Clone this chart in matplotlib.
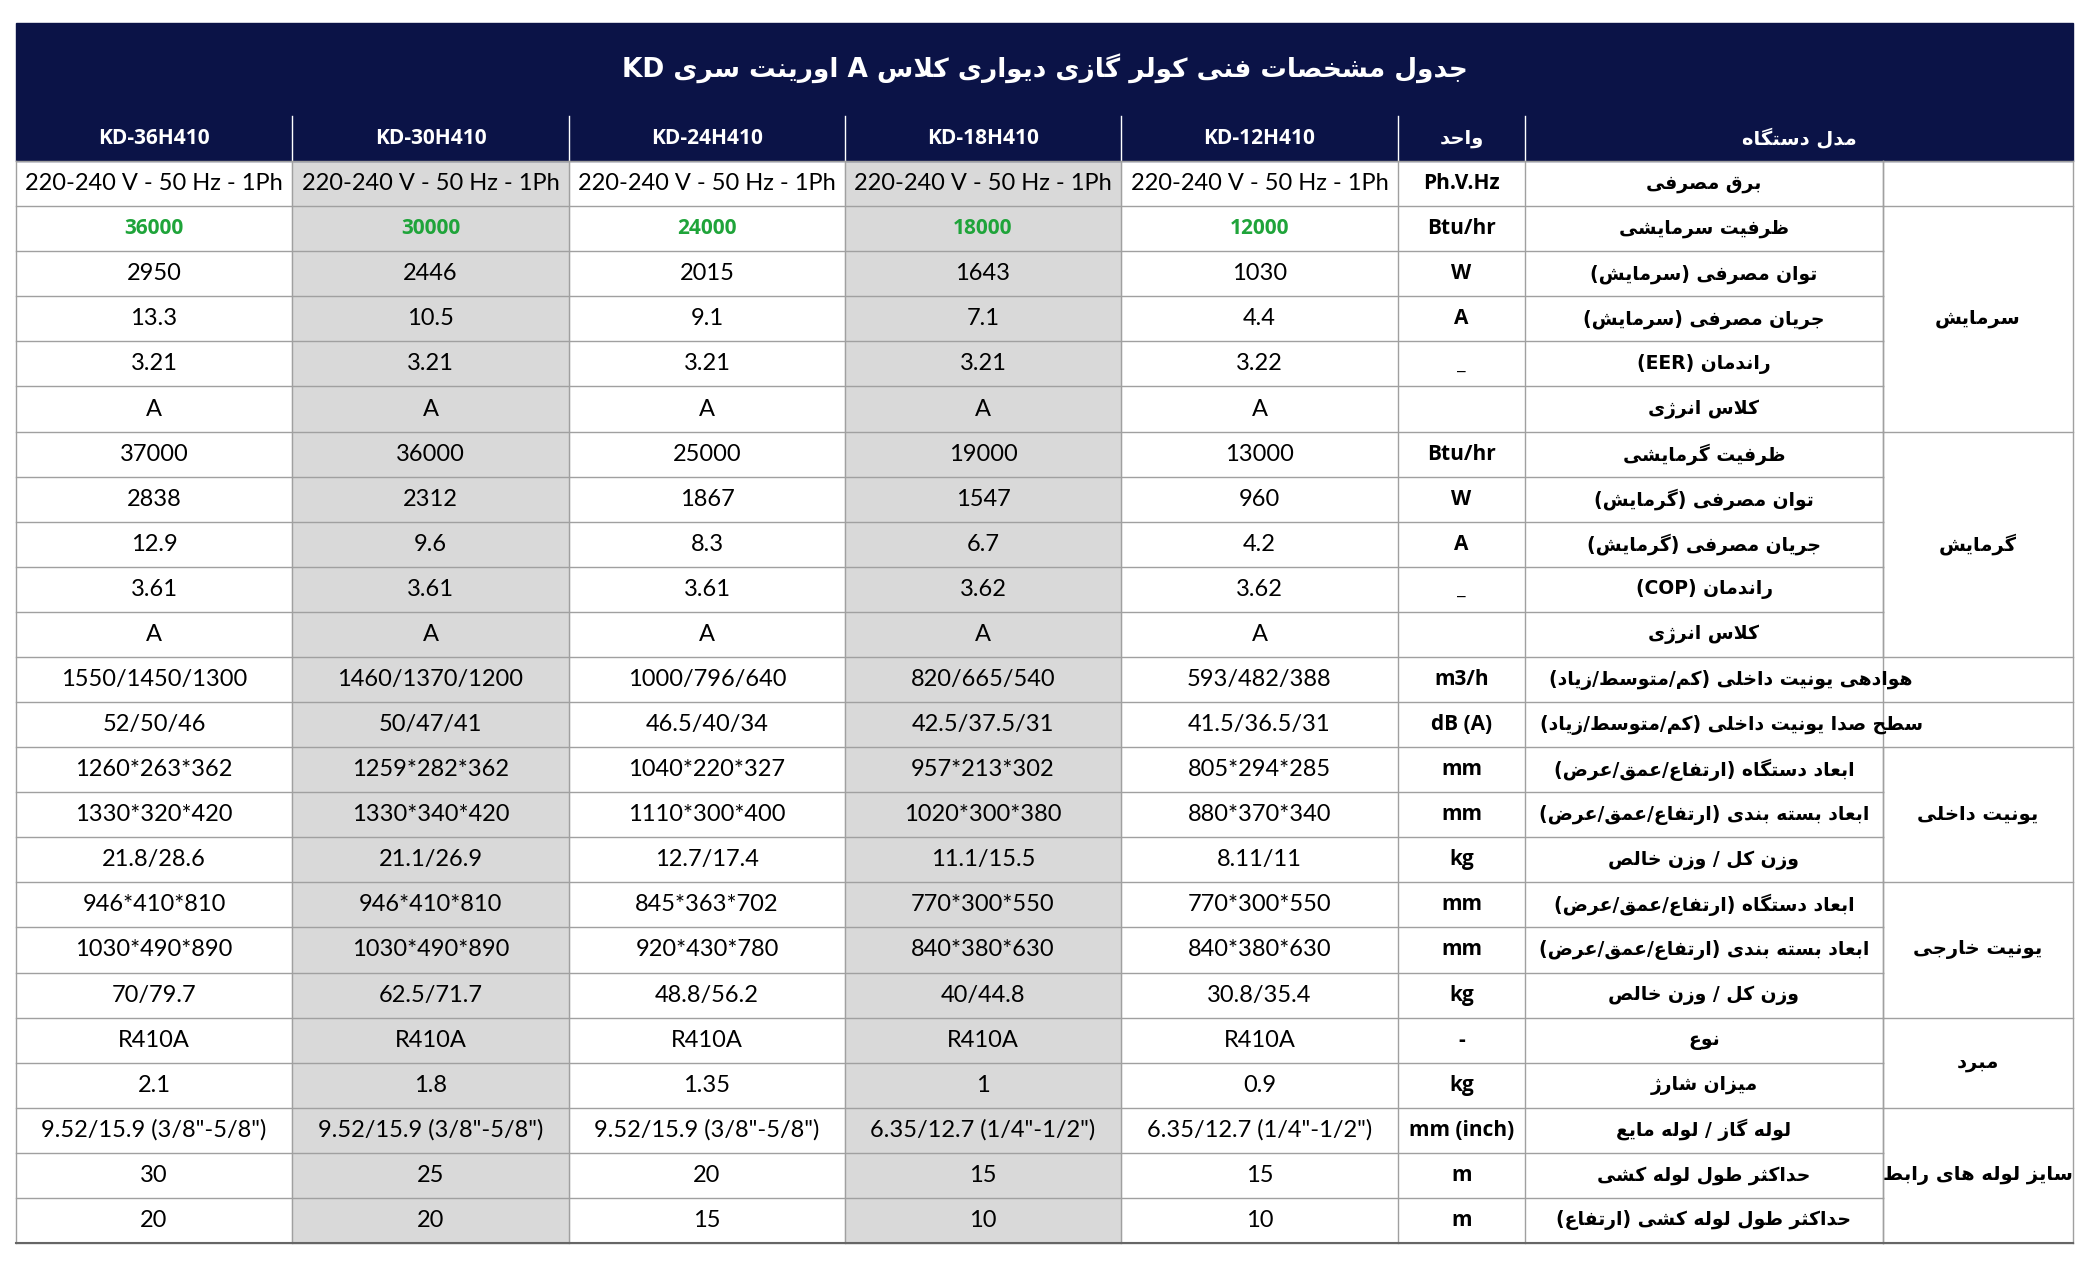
import matplotlib
matplotlib.use("Agg")
import matplotlib.pyplot as plt
from matplotlib.patches import Rectangle

# ---------------- data ----------------
title = "جدول مشخصات فنی کولر گازی دیواری کلاس A اورینت سری KD"
models = ["KD-12H410", "KD-18H410", "KD-24H410", "KD-30H410", "KD-36H410"]  # right -> left
row_labels = ["برق مصرفی", "ظرفیت سرمایشی", "توان مصرفی (سرمایش)", "جریان مصرفی (سرمایش)",
              "راندمان (EER)", "کلاس انرژی", "ظرفیت گرمایشی", "توان مصرفی (گرمایش)",
              "جریان مصرفی (گرمایش)", "راندمان (COP)", "کلاس انرژی",
              "هوادهی یونیت داخلی (کم/متوسط/زیاد)", "سطح صدا یونیت داخلی (کم/متوسط/زیاد)",
              "ابعاد دستگاه (ارتفاع/عمق/عرض)", "ابعاد بسته بندی (ارتفاع/عمق/عرض)", "وزن کل / وزن خالص",
              "ابعاد دستگاه (ارتفاع/عمق/عرض)", "ابعاد بسته بندی (ارتفاع/عمق/عرض)", "وزن کل / وزن خالص",
              "نوع", "میزان شارژ", "لوله گاز / لوله مایع", "حداکثر طول لوله کشی",
              "حداکثر طول لوله کشی (ارتفاع)"]
units = ["Ph.V.Hz", "Btu/hr", "W", "A", "_", "", "Btu/hr", "W", "A", "_", "", "m3/h", "dB (A)",
         "mm", "mm", "kg", "mm", "mm", "kg", "-", "kg", "mm (inch)", "m", "m"]
values = [
    ["220-240 V - 50 Hz - 1Ph"] * 5,
    ["12000", "18000", "24000", "30000", "36000"],
    ["1030", "1643", "2015", "2446", "2950"],
    ["4.4", "7.1", "9.1", "10.5", "13.3"],
    ["3.22", "3.21", "3.21", "3.21", "3.21"],
    ["A"] * 5,
    ["13000", "19000", "25000", "36000", "37000"],
    ["960", "1547", "1867", "2312", "2838"],
    ["4.2", "6.7", "8.3", "9.6", "12.9"],
    ["3.62", "3.62", "3.61", "3.61", "3.61"],
    ["A"] * 5,
    ["593/482/388", "820/665/540", "1000/796/640", "1460/1370/1200", "1550/1450/1300"],
    ["41.5/36.5/31", "42.5/37.5/31", "46.5/40/34", "50/47/41", "52/50/46"],
    ["805*294*285", "957*213*302", "1040*220*327", "1259*282*362", "1260*263*362"],
    ["880*370*340", "1020*300*380", "1110*300*400", "1330*340*420", "1330*320*420"],
    ["8.11/11", "11.1/15.5", "12.7/17.4", "21.1/26.9", "21.8/28.6"],
    ["770*300*550", "770*300*550", "845*363*702", "946*410*810", "946*410*810"],
    ["840*380*630", "840*380*630", "920*430*780", "1030*490*890", "1030*490*890"],
    ["30.8/35.4", "40/44.8", "48.8/56.2", "62.5/71.7", "70/79.7"],
    ["R410A"] * 5,
    ["0.9", "1", "1.35", "1.8", "2.1"],
    ['6.35/12.7 (1/4"-1/2")', '6.35/12.7 (1/4"-1/2")', '9.52/15.9 (3/8"-5/8")',
     '9.52/15.9 (3/8"-5/8")', '9.52/15.9 (3/8"-5/8")'],
    ["15", "15", "20", "25", "30"],
    ["10", "10", "15", "20", "20"],
]
groups = [("سرمایش", 1, 5), ("گرمایش", 6, 10), ("یونیت داخلی", 13, 15),
          ("یونیت خارجی", 16, 18), ("مبرد", 19, 20), ("سایز لوله های رابط", 21, 23)]
span_rows = [11, 12]

# ---------------- simple Persian shaping ----------------
DUAL = {'ب': 0xFE8F, 'ت': 0xFE95, 'ث': 0xFE99, 'ج': 0xFE9D, 'ح': 0xFEA1, 'خ': 0xFEA5,
        'س': 0xFEB1, 'ش': 0xFEB5, 'ص': 0xFEB9, 'ض': 0xFEBD, 'ط': 0xFEC1, 'ظ': 0xFEC5,
        'ع': 0xFEC9, 'غ': 0xFECD, 'ف': 0xFED1, 'ق': 0xFED5, 'ل': 0xFEDD, 'م': 0xFEE1,
        'ن': 0xFEE5, 'ه': 0xFEE9, 'ک': 0xFB8E, 'گ': 0xFB92, 'ی': 0xFBFC, 'پ': 0xFB56,
        'چ': 0xFB7A, 'ئ': 0xFE89}
RIGHT = {'ا': 0xFE8D, 'د': 0xFEA9, 'ذ': 0xFEAB, 'ر': 0xFEAD, 'ز': 0xFEAF, 'و': 0xFEED,
         'ژ': 0xFB8A, 'آ': 0xFE81, '\uE000': 0xFEFB}


def shape(s):
    s = s.replace('لا', '\uE000')
    out = []
    for i, c in enumerate(s):
        if c not in DUAL and c not in RIGHT:
            out.append(c)
            continue
        p = s[i - 1] if i > 0 else ''
        n = s[i + 1] if i + 1 < len(s) else ''
        cp = p in DUAL
        cn = c in DUAL and (n in DUAL or n in RIGHT)
        if c in RIGHT:
            b = RIGHT[c]
            out.append(chr(b + 1 if cp else b))
        else:
            b = DUAL[c]
            off = 3 if (cp and cn) else 1 if cp else 2 if cn else 0
            out.append(chr(b + off))
    return ''.join(out)


def ltr(ch):
    return ch.isascii() and (ch.isalnum() or ch in '.-')


def vis(s):
    r = shape(s)[::-1]
    r = r.translate(str.maketrans('()', ')('))
    res, i = [], 0
    while i < len(r):
        if ltr(r[i]):
            j = i
            while j < len(r) and ltr(r[j]):
                j += 1
            res.append(r[i:j][::-1])
            i = j
        else:
            res.append(r[i])
            i += 1
    return ''.join(res)

# ---------------- layout ----------------
W, H = 2089, 1261
NAVY = "#0b1347"
GRAY = "#d9d9d9"
GREEN = "#1fa43a"
LINE = "#a0a0a0"
LAT = "Lato"
BOLD = "Open Sans"
FA = "DejaVu Sans"

xs = [16, 292, 569, 845, 1121, 1398, 1525, 1883, 2073]  # col edges left->right
y_title0, y_title1 = 23, 113
y0 = 116
nrows = len(row_labels)
rh = (1243 - y0) / (nrows + 1)

fig = plt.figure(figsize=(W / 100, H / 100), dpi=100)
ax = fig.add_axes([0, 0, 1, 1])
ax.set_xlim(0, W)
ax.set_ylim(H, 0)
ax.axis("off")

ax.add_patch(Rectangle((xs[0], y_title0), xs[-1] - xs[0], y0 + rh - y_title0, color=NAVY))
ax.text((xs[0] + xs[-1]) / 2, (y_title0 + y_title1) / 2, vis(title), color="white",
        fontsize=19, fontweight="bold", family=FA, ha="center", va="center")

# header row
hy = y0 + rh / 2
for k, m in enumerate(models):
    cx = (xs[4 - k] + xs[5 - k]) / 2
    ax.text(cx, hy, m, color="white", fontsize=15, fontweight="bold", family=BOLD, ha="center", va="center")
ax.text((xs[5] + xs[6]) / 2, hy, vis("واحد"), color="white", fontsize=14, fontweight="bold",
        family=FA, ha="center", va="center")
ax.text((xs[6] + xs[8]) / 2, hy, vis("مدل دستگاه"), color="white", fontsize=14, fontweight="bold",
        family=FA, ha="center", va="center")
for x in xs[1:-1]:
    if x != xs[7]:
        ax.plot([x, x], [y0, y0 + rh], color="white", lw=1)

# body
top = y0 + rh
bot = top + nrows * rh
for k in (1, 3):  # gray columns
    ax.add_patch(Rectangle((xs[4 - k], top), xs[5 - k] - xs[4 - k], bot - top, color=GRAY, zorder=0))

for r in range(nrows):
    cy = top + (r + 0.5) * rh
    for k in range(5):
        cx = (xs[4 - k] + xs[5 - k]) / 2
        if r == 1:
            ax.text(cx, cy, values[r][k], color=GREEN, fontsize=15, fontweight="bold",
                    family=BOLD, ha="center", va="center")
        else:
            ax.text(cx, cy, values[r][k], color="black", fontsize=17, family=LAT,
                    ha="center", va="center")
    ax.text((xs[5] + xs[6]) / 2, cy, units[r], fontsize=15, fontweight="bold", family=BOLD,
            ha="center", va="center")
    if r in span_rows:
        lx = 1731
    else:
        lx = (xs[6] + xs[7]) / 2
    ax.text(lx, cy, vis(row_labels[r]), fontsize=13.5, fontweight="bold", family=FA,
            ha="center", va="center")

for name, a, b in groups:
    cy = top + (a + b + 1) / 2 * rh
    ax.text((xs[7] + xs[8]) / 2, cy, vis(name), fontsize=14, fontweight="bold", family=FA,
            ha="center", va="center")

# grid lines
for r in range(nrows + 1):
    y = top + r * rh
    ax.plot([xs[0], xs[7]], [y, y], color=LINE, lw=1)
gb = {0, 1, 6, 11, 12, 13, 16, 19, 21, nrows}
for r in gb:
    y = top + r * rh
    ax.plot([xs[7], xs[8]], [y, y], color=LINE, lw=1)
for x in xs[:-1]:
    ax.plot([x, x], [top, bot], color=LINE, lw=1)
for r in range(nrows):
    if r not in span_rows:
        ax.plot([xs[7], xs[7]], [top + r * rh, top + (r + 1) * rh], color=LINE, lw=1)
ax.plot([xs[8], xs[8]], [top, bot], color=LINE, lw=1)
ax.plot([xs[0], xs[8]], [bot, bot], color="#666666", lw=1.5)

fig.savefig("out.png", dpi=100)
